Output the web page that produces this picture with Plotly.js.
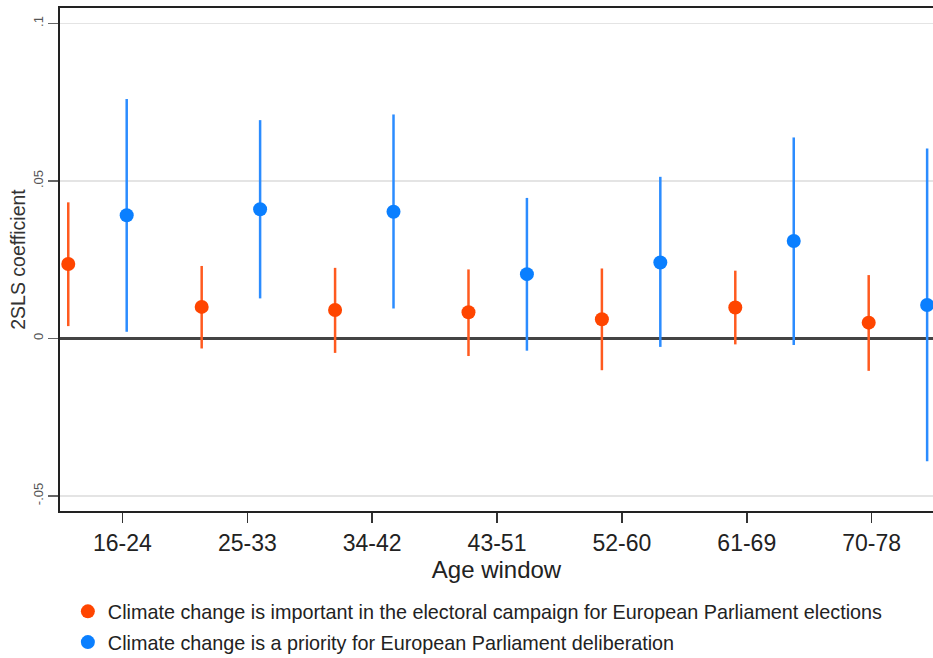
<!DOCTYPE html>
<html>
<head>
<meta charset="utf-8">
<script src="https://cdn.plot.ly/plotly-3.0.1.min.js"></script>
<style>html,body{margin:0;padding:0;background:#fff;}#chart{width:933px;height:658px;}</style>
</head>
<body>
<div id="chart"></div>
<script>
// Data
const ageWindows = ["16-24","25-33","34-42","43-51","52-60","61-69","70-78"];
const seriesNames = [
  "Climate change is important in the electoral campaign for European Parliament elections",
  "Climate change is a priority for European Parliament deliberation"
];
const campaignCoef = [0.0236, 0.0100, 0.0090, 0.0083, 0.0061, 0.0098, 0.0050];
const campaignLow  = [0.0039, -0.0032, -0.0046, -0.0056, -0.0101, -0.0019, -0.0103];
const campaignHigh = [0.0432, 0.0230, 0.0224, 0.0219, 0.0222, 0.0215, 0.0201];
const priorityCoef = [0.0391, 0.0410, 0.0402, 0.0204, 0.0241, 0.0309, 0.0106];
const priorityLow  = [0.0021, 0.0127, 0.0095, -0.0039, -0.0027, -0.0021, -0.0390];
const priorityHigh = [0.0760, 0.0693, 0.0711, 0.0446, 0.0513, 0.0638, 0.0603];
const yTickVals = [-0.05, 0, 0.05, 0.1];
const yTickText = ["-.05", "0", ".05", ".1"];

// Layout helpers (positions, not data)
const blueOffset = 0.438;
const tickStart = 0.406, tickStep = 0.936;
const idx = ageWindows.map((_, i) => i);
const xOrange = idx;
const xBlue = idx.map(i => i + blueOffset);
const tickPos = idx.map(i => tickStart + tickStep * i);

const font = "Liberation Sans, Arial, sans-serif";

const traces = [
  {
    type: "scatter", mode: "markers", name: seriesNames[0], legendgroup: "a",
    x: xOrange, y: campaignCoef,
    marker: {color: "#ff4500", size: 14},
    error_y: {type: "data", symmetric: false,
      array: campaignHigh.map((h, i) => h - campaignCoef[i]),
      arrayminus: campaignCoef.map((c, i) => c - campaignLow[i]),
      color: "#ff5a1f", thickness: 2.5, width: 0}
  },
  {
    type: "scatter", mode: "markers", name: seriesNames[1], legendgroup: "b",
    x: xBlue, y: priorityCoef,
    marker: {color: "#0a7fff", size: 14},
    error_y: {type: "data", symmetric: false,
      array: priorityHigh.map((h, i) => h - priorityCoef[i]),
      arrayminus: priorityCoef.map((c, i) => c - priorityLow[i]),
      color: "#2b8cff", thickness: 2.5, width: 0}
  }
];

const layout = {
  width: 933, height: 658,
  margin: {l: 60, r: 0, t: 8, b: 147, autoexpand: false},
  paper_bgcolor: "#fff", plot_bgcolor: "#fff",
  font: {family: font, color: "#222"},
  showlegend: true,
  legend: {
    x: 0.009, xanchor: "left", y: -0.161, yanchor: "top",
    orientation: "v", traceorder: "grouped",
    font: {size: 19.8, color: "#222", family: font},
    bgcolor: "rgba(0,0,0,0)", tracegroupgap: 2
  },
  xaxis: {
    range: [-0.062, 6.482],
    tickmode: "array", tickvals: tickPos, ticktext: ageWindows,
    ticks: "outside", ticklen: 10, tickwidth: 1.5, tickcolor: "#333",
    tickfont: {size: 23, color: "#222", family: font},
    showgrid: false, zeroline: false,
    showline: true, linecolor: "#222", linewidth: 2, mirror: true,
    title: {text: "Age window", font: {size: 24, color: "#222", family: font}, standoff: 0}
  },
  yaxis: {
    range: [-0.0548, 0.1049],
    tickmode: "array", tickvals: yTickVals, ticktext: yTickText,
    tickangle: -90,
    ticks: "outside", ticklen: 10, tickwidth: 1.5, tickcolor: "#666",
    tickfont: {size: 13, color: "#555", family: font},
    showgrid: true, gridcolor: "#e4e4e4", gridwidth: 1.5,
    zeroline: true, zerolinecolor: "#444", zerolinewidth: 2.5,
    showline: true, linecolor: "#222", linewidth: 2, mirror: false,
    title: {text: "2SLS coefficient", font: {size: 19.5, color: "#333", family: font}, standoff: 0}
  }
};

Plotly.newPlot("chart", traces, layout, {displayModeBar: false, staticPlot: true});
</script>
</body>
</html>
